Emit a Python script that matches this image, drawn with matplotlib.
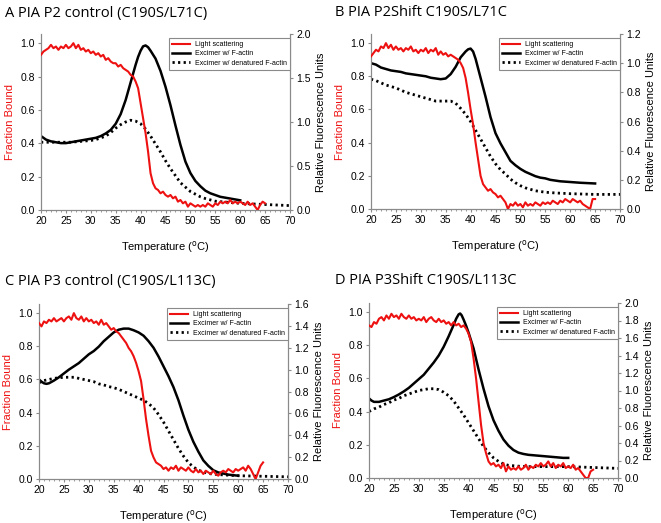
import numpy as np
import matplotlib

matplotlib.use("Agg")
import matplotlib.pyplot as plt  # noqa: E402
from matplotlib.ticker import MultipleLocator  # noqa: E402

plt.rcParams["font.family"] = ["Liberation Sans", "DejaVu Sans"]

RED = "#ee1111"
FRAME = "#8a8a8a"

# light scattering (fraction bound), sampled every 0.5 degC from 20 to 65
T_LS = np.arange(20.0, 65.25, 0.5)

LS_A = [0.93, 0.95, 0.96, 0.97, 0.99, 0.97, 0.98, 0.96, 0.98, 0.97,
        0.99, 0.97, 0.98, 1.00, 0.97, 0.99, 0.96, 0.97, 0.95, 0.96,
        0.94, 0.95, 0.93, 0.94, 0.92, 0.93, 0.90, 0.91, 0.89, 0.88,
        0.88, 0.86, 0.87, 0.85, 0.84, 0.83, 0.81, 0.80, 0.77, 0.73,
        0.64, 0.55, 0.46, 0.35, 0.22, 0.16, 0.13, 0.12, 0.10, 0.11,
        0.09, 0.08, 0.09, 0.07, 0.08, 0.05, 0.06, 0.04, 0.05, 0.02,
        0.04, 0.03, 0.02, 0.03, 0.02, 0.03, 0.02, 0.04, 0.03, 0.02,
        0.04, 0.03, 0.05, 0.04, 0.05, 0.04, 0.06, 0.04, 0.05, 0.04,
        0.05, 0.04, 0.03, 0.05, 0.03, 0.04, 0.02, 0.00, 0.03, 0.05,
        0.04]
LS_B = [0.92, 0.94, 0.96, 0.95, 0.98, 0.97, 1.00, 0.97, 0.99, 0.96,
        0.98, 0.96, 0.97, 0.95, 0.97, 0.96, 0.98, 0.95, 0.96, 0.94,
        0.96, 0.95, 0.97, 0.94, 0.96, 0.95, 0.97, 0.93, 0.95, 0.93,
        0.94, 0.92, 0.93, 0.92, 0.91, 0.90, 0.88, 0.85, 0.79, 0.70,
        0.60, 0.51, 0.40, 0.30, 0.20, 0.15, 0.13, 0.11, 0.12, 0.10,
        0.09, 0.07, 0.08, 0.06, 0.04, 0.00, 0.03, 0.02, 0.04, 0.02,
        0.03, 0.01, 0.04, 0.02, 0.03, 0.02, 0.04, 0.03, 0.02, 0.04,
        0.03, 0.04, 0.03, 0.05, 0.04, 0.03, 0.05, 0.04, 0.06, 0.05,
        0.04, 0.06, 0.05, 0.04, 0.05, 0.03, 0.02, 0.01, 0.00, 0.06,
        0.06]
LS_C = [0.94, 0.92, 0.95, 0.94, 0.96, 0.95, 0.97, 0.95, 0.96, 0.97,
        0.95, 0.97, 0.98, 0.96, 1.00, 0.97, 0.96, 0.98, 0.95, 0.97,
        0.95, 0.96, 0.94, 0.95, 0.93, 0.96, 0.93, 0.94, 0.92, 0.90,
        0.91, 0.89, 0.88, 0.86, 0.84, 0.82, 0.79, 0.77, 0.74, 0.70,
        0.65, 0.59, 0.48, 0.36, 0.26, 0.17, 0.13, 0.10, 0.09, 0.08,
        0.06, 0.07, 0.05, 0.07, 0.06, 0.08, 0.05, 0.07, 0.06, 0.05,
        0.07, 0.05, 0.04, 0.06, 0.04, 0.05, 0.03, 0.05, 0.04, 0.03,
        0.05, 0.03, 0.02, 0.04, 0.05, 0.04, 0.06, 0.05, 0.04, 0.06,
        0.05, 0.06, 0.07, 0.05, 0.08, 0.06, 0.03, 0.00, 0.04, 0.08,
        0.10]
LS_D = [0.92, 0.91, 0.94, 0.93, 0.96, 0.97, 0.95, 0.98, 0.96, 0.99,
        0.97, 0.98, 0.96, 0.99, 0.97, 0.96, 0.98, 0.96, 0.97, 0.95,
        0.96, 0.95, 0.97, 0.94, 0.96, 0.97, 0.95, 0.94, 0.96, 0.94,
        0.95, 0.93, 0.94, 0.92, 0.94, 0.92, 0.93, 0.91, 0.92, 0.90,
        0.87, 0.82, 0.72, 0.60, 0.46, 0.32, 0.21, 0.15, 0.10, 0.08,
        0.09, 0.07, 0.08, 0.06, 0.09, 0.04, 0.07, 0.05, 0.06, 0.05,
        0.07, 0.05, 0.06, 0.08, 0.05, 0.07, 0.06, 0.08, 0.07, 0.09,
        0.07, 0.08, 0.10, 0.07, 0.09, 0.06, 0.08, 0.07, 0.09, 0.06,
        0.07, 0.06, 0.08, 0.05, 0.06, 0.04, 0.02, 0.00, 0.00, 0.04,
        0.05]

# excimer w/ F-actin (relative fluorescence units)
T_EX_A = [20, 21, 22, 23, 24, 25, 26, 27, 28, 29, 30, 31, 32, 33, 34, 35,
          36, 37, 38, 39, 39.5, 40, 40.5, 41, 41.5, 42, 43, 44, 45, 46, 47,
          48, 49, 50, 51, 52, 53, 54, 55, 56, 57, 58, 59, 60]
EX_A = [0.84, 0.80, 0.78, 0.77, 0.76, 0.76, 0.77, 0.78, 0.79, 0.80, 0.81,
        0.82, 0.84, 0.87, 0.91, 0.98, 1.09, 1.25, 1.45, 1.65, 1.74, 1.81,
        1.86, 1.87, 1.85, 1.81, 1.72, 1.58, 1.40, 1.19, 0.96, 0.74, 0.55,
        0.42, 0.33, 0.27, 0.22, 0.19, 0.17, 0.15, 0.14, 0.13, 0.12, 0.11]
T_EX_B = [20, 21, 22, 23, 24, 25, 26, 27, 28, 29, 30, 31, 32, 33, 34, 35,
          36, 37, 38, 39, 39.5, 40, 40.5, 41, 42, 43, 44, 45, 46, 47, 48,
          49, 50, 51, 52, 53, 54, 55, 56, 57, 58, 60, 62, 65]
EX_B = [1.00, 0.99, 0.97, 0.96, 0.95, 0.945, 0.94, 0.93, 0.925, 0.92,
        0.915, 0.91, 0.90, 0.895, 0.89, 0.895, 0.925, 0.975, 1.04, 1.08,
        1.095, 1.10, 1.08, 1.03, 0.90, 0.77, 0.63, 0.52, 0.45, 0.39, 0.33,
        0.30, 0.275, 0.255, 0.24, 0.225, 0.215, 0.21, 0.20, 0.195, 0.19,
        0.185, 0.18, 0.175]
T_EX_C = [20, 20.5, 21, 21.5, 22, 23, 24, 25, 26, 27, 28, 29, 30, 31, 32,
          33, 34, 35, 36, 37, 38, 39, 40, 41, 42, 43, 44, 45, 46, 47, 48,
          49, 50, 51, 52, 53, 54, 55, 56, 57, 58, 59, 60]
EX_C = [0.91, 0.89, 0.875, 0.87, 0.875, 0.90, 0.93, 0.965, 1.00, 1.03,
        1.06, 1.10, 1.14, 1.17, 1.21, 1.26, 1.30, 1.34, 1.365, 1.375,
        1.375, 1.36, 1.34, 1.31, 1.26, 1.20, 1.12, 1.03, 0.94, 0.84, 0.72,
        0.58, 0.45, 0.34, 0.25, 0.17, 0.12, 0.08, 0.06, 0.05, 0.04, 0.035,
        0.03]
T_EX_D = [20, 20.5, 21, 22, 23, 24, 25, 26, 27, 28, 29, 30, 31, 32, 33, 34,
          35, 36, 37, 37.5, 38, 38.3, 38.6, 39, 39.5, 40, 41, 42, 43, 44,
          45, 46, 47, 48, 49, 50, 51, 52, 53, 54, 55, 56, 57, 58, 59, 60]
EX_D = [0.91, 0.885, 0.87, 0.87, 0.885, 0.90, 0.925, 0.955, 0.99, 1.03,
        1.08, 1.13, 1.18, 1.25, 1.32, 1.40, 1.50, 1.62, 1.75, 1.82, 1.87,
        1.88, 1.86, 1.81, 1.74, 1.66, 1.48, 1.24, 1.02, 0.82, 0.66, 0.54,
        0.44, 0.37, 0.32, 0.29, 0.275, 0.265, 0.26, 0.255, 0.25, 0.245,
        0.24, 0.235, 0.23, 0.23]

# excimer w/ denatured F-actin
T_DN_A = [20, 22, 24, 26, 28, 30, 31, 32, 33, 34, 35, 36, 37, 38, 39, 40,
          41, 42, 43, 44, 45, 46, 47, 48, 49, 50, 51, 52, 53, 54, 55, 57,
          59, 62, 66, 70]
DN_A = [0.77, 0.77, 0.77, 0.77, 0.78, 0.79, 0.80, 0.82, 0.84, 0.88, 0.93,
        0.97, 1.00, 1.02, 1.01, 0.98, 0.92, 0.84, 0.75, 0.66, 0.56, 0.47,
        0.39, 0.31, 0.26, 0.21, 0.18, 0.15, 0.13, 0.115, 0.10, 0.09, 0.08,
        0.07, 0.06, 0.05]
T_DN_B = [20, 21, 22, 23, 24, 25, 26, 27, 28, 29, 30, 31, 32, 33, 34, 35,
          36, 37, 38, 39, 40, 41, 42, 43, 44, 45, 46, 47, 48, 49, 50, 51,
          52, 53, 54, 55, 57, 60, 65, 70]
DN_B = [0.89, 0.88, 0.865, 0.85, 0.84, 0.83, 0.815, 0.80, 0.79, 0.78,
        0.77, 0.76, 0.75, 0.74, 0.74, 0.74, 0.74, 0.725, 0.69, 0.65, 0.60,
        0.54, 0.48, 0.42, 0.36, 0.31, 0.27, 0.24, 0.205, 0.18, 0.16, 0.145,
        0.135, 0.125, 0.12, 0.115, 0.11, 0.105, 0.10, 0.10]
T_DN_C = [20, 21, 22, 23, 24, 25, 26, 27, 28, 29, 30, 31, 32, 33, 34, 35,
          36, 37, 38, 39, 40, 41, 42, 43, 44, 45, 46, 47, 48, 49, 50, 51,
          52, 53, 54, 55, 56, 58, 60, 65, 70]
DN_C = [0.88, 0.90, 0.91, 0.92, 0.925, 0.93, 0.93, 0.93, 0.92, 0.91, 0.90,
        0.89, 0.87, 0.86, 0.845, 0.835, 0.82, 0.80, 0.78, 0.76, 0.74, 0.72,
        0.69, 0.65, 0.59, 0.52, 0.44, 0.36, 0.28, 0.21, 0.15, 0.11, 0.08,
        0.065, 0.05, 0.045, 0.04, 0.035, 0.03, 0.025, 0.02]
T_DN_D = [20, 21, 22, 23, 24, 25, 26, 27, 28, 29, 30, 31, 32, 33, 34, 35,
          36, 37, 38, 39, 40, 41, 42, 43, 44, 45, 46, 47, 48, 49, 50, 52,
          55, 60, 65, 70]
DN_D = [0.76, 0.79, 0.81, 0.84, 0.86, 0.89, 0.91, 0.94, 0.96, 0.98, 1.00,
        1.01, 1.02, 1.02, 1.01, 0.98, 0.94, 0.88, 0.80, 0.72, 0.63, 0.54,
        0.45, 0.36, 0.29, 0.23, 0.19, 0.16, 0.145, 0.14, 0.135, 0.13, 0.13,
        0.13, 0.12, 0.11]

TITLES = ["A", "B", "C", "D"]
SUBTITLES = ["PIA P2 control (C190S/L71C)", "PIA P2Shift C190S/L71C",
             "PIA P3 control (C190S/L113C)", "PIA P3Shift C190S/L113C"]
RIGHT_MAX = [2.0, 1.2, 1.6, 2.0]
RIGHT_STEP = [0.5, 0.2, 0.2, 0.2]

W, H = 661, 523
# axes boxes in pixels: left, top, right, bottom
BOXES = [(41, 34, 290, 210), (371, 34, 620, 209),
         (39, 304, 288, 479), (369, 303, 618, 478)]
TITLE_POS = [(5, 17), (335, 16), (5, 285), (335, 284)]


def _style(ax):
    for side in ("left", "right", "bottom"):
        ax.spines[side].set_color(FRAME)
        ax.spines[side].set_linewidth(0.8)
    ax.spines["top"].set_visible(False)
    ax.tick_params(which="both", direction="out", color=FRAME,
                   labelsize=7.5, pad=2)
    ax.tick_params(which="major", length=2.5)
    ax.tick_params(which="minor", length=1.5)


def panel(fig, i, ls, t_ex, ex, t_dn, dn):
    l, t, r, b = BOXES[i]
    ax = fig.add_axes([l / W, 1 - b / H, (r - l) / W, (b - t) / H])
    ax2 = ax.twinx()
    ax.set_zorder(ax2.get_zorder() + 1)
    ax.patch.set_visible(False)

    l_ls, = ax.plot(T_LS, ls, color=RED, lw=1.5, zorder=3)
    l_ex, = ax2.plot(t_ex, ex, color="black", lw=1.8)
    l_dn, = ax2.plot(t_dn, dn, color="black", lw=2.0,
                     linestyle=(0, (0.8, 1.2)))

    for a in (ax, ax2):
        _style(a)
    ax.set_xlim(20, 70)
    ax.xaxis.set_major_locator(MultipleLocator(5))
    ax.xaxis.set_minor_locator(MultipleLocator(1))
    ax.set_ylim(0, 1.055)
    ax.set_yticks(np.arange(0, 1.01, 0.2))
    ax.set_yticklabels([f"{v:.1f}" for v in np.arange(0, 1.01, 0.2)])
    rm = RIGHT_MAX[i]
    ax2.set_ylim(0, rm)
    rt = np.arange(0, rm + 1e-6, RIGHT_STEP[i])
    ax2.set_yticks(rt)
    ax2.set_yticklabels([f"{v:.1f}" for v in rt])

    ax.set_ylabel("Fraction Bound", color=RED, fontsize=8, labelpad=4)
    ax2.set_ylabel("Relative Fluorescence Units", fontsize=8, labelpad=4)
    ax.set_xlabel("Temperature ($^{\\mathrm{o}}$C)", fontsize=8, labelpad=9)

    leg = ax.legend([l_ls, l_ex, l_dn],
                    ["Light scattering", "Excimer w/ F-actin",
                     "Excimer w/ denatured F-actin"],
                    loc="upper right", bbox_to_anchor=(1.0, 0.978),
                    borderaxespad=0, fontsize=5.0, handlelength=2.6,
                    fancybox=False, framealpha=1, edgecolor=FRAME,
                    borderpad=0.45, labelspacing=0.35, handletextpad=0.7)
    leg.get_frame().set_linewidth(0.8)

    x, y = TITLE_POS[i]
    fig.text(x / W, 1 - y / H, TITLES[i] + " " + SUBTITLES[i],
             fontsize=10.5, family="Open Sans", va="baseline", ha="left")


def main():
    fig = plt.figure(figsize=(W / 100, H / 100), dpi=100)
    fig.patch.set_facecolor("white")
    panel(fig, 0, LS_A, T_EX_A, EX_A, T_DN_A, DN_A)
    panel(fig, 1, LS_B, T_EX_B, EX_B, T_DN_B, DN_B)
    panel(fig, 2, LS_C, T_EX_C, EX_C, T_DN_C, DN_C)
    panel(fig, 3, LS_D, T_EX_D, EX_D, T_DN_D, DN_D)
    fig.savefig("out.png", dpi=100, facecolor="white")
    plt.close(fig)


if __name__ == "__main__":
    main()
